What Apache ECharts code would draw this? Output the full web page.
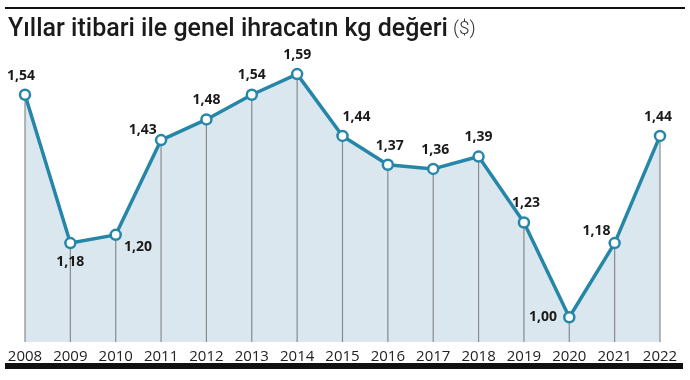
<!DOCTYPE html>
<html><head><meta charset="utf-8">
<script src="https://cdn.jsdelivr.net/npm/echarts@6/dist/echarts.min.js"></script>
<style>html,body{margin:0;padding:0;background:#fff}#c{width:690px;height:380px}</style>
</head><body><div id="c"></div>
<script>
const years = ['2008','2009','2010','2011','2012','2013','2014','2015','2016','2017','2018','2019','2020','2021','2022'];
const values = [1.54,1.18,1.20,1.43,1.48,1.54,1.59,1.44,1.37,1.36,1.39,1.23,1.00,1.18,1.44];
const labelPos = ['top','bottom','right','left','top','top','top','top','top','top','top','top','left','left','top'];
const labelOff = [[-4,1],[0,0],[-4,12],[8,-10],[0,0],[0,0],[0,0],[14,0],[2,0],[2,0],[0,0],[2,0],[0,0],[8,-12],[-2,0]];
const title = 'Yıllar itibari ile genel ihracatın kg değeri';
const unit = '($)';

const chart = echarts.init(document.getElementById('c'));
const lineData = values.map((v,i)=>({value:v,label:{position:labelPos[i],offset:labelOff[i]}}));
chart.setOption({
  animation:false,
  title:{text:'{a|'+title+'} {b|'+unit+'}',left:3,top:12,textStyle:{rich:{
    a:{fontFamily:'Roboto, sans-serif',fontWeight:500,fontSize:25,color:'#1a1a1a'},
    b:{fontFamily:'Roboto, sans-serif',fontWeight:300,fontSize:19,color:'#333'}}}},
  grid:{left:25,right:30,top:70,bottom:38},
  xAxis:{type:'category',data:years,boundaryGap:false,
    axisLine:{show:false},axisTick:{show:false},
    axisLabel:{color:'#222',fontSize:15,fontFamily:'Open Sans, sans-serif',margin:7,interval:0}},
  yAxis:{type:'value',min:0.94,max:1.6,show:false,splitLine:{show:false}},
  series:[
    {type:'line',data:values,z:1,symbol:'none',lineStyle:{width:0},
     areaStyle:{color:'#dae7ef',opacity:1,origin:'start'},silent:true},
    {type:'bar',data:values,barWidth:1.2,itemStyle:{color:'#8a8a8a'},silent:true,z:3},
    {type:'line',data:lineData,z:5,symbol:'circle',symbolSize:10,
     lineStyle:{color:'#2686a8',width:3.5},
     itemStyle:{color:'#fff',borderColor:'#2686a8',borderWidth:2.5},
     label:{show:true,formatter:p=>p.value.toFixed(2).replace('.',','),
       fontFamily:'Open Sans, sans-serif',fontWeight:'bold',fontSize:14,color:'#1a1a1a',distance:6}}
  ],
  graphic:[
    {type:'rect',shape:{x:5,y:7,width:680,height:2},style:{fill:'#111'}},
    {type:'rect',shape:{x:5,y:363,width:678,height:6},style:{fill:'#111'}}
  ]
});
</script></body></html>
